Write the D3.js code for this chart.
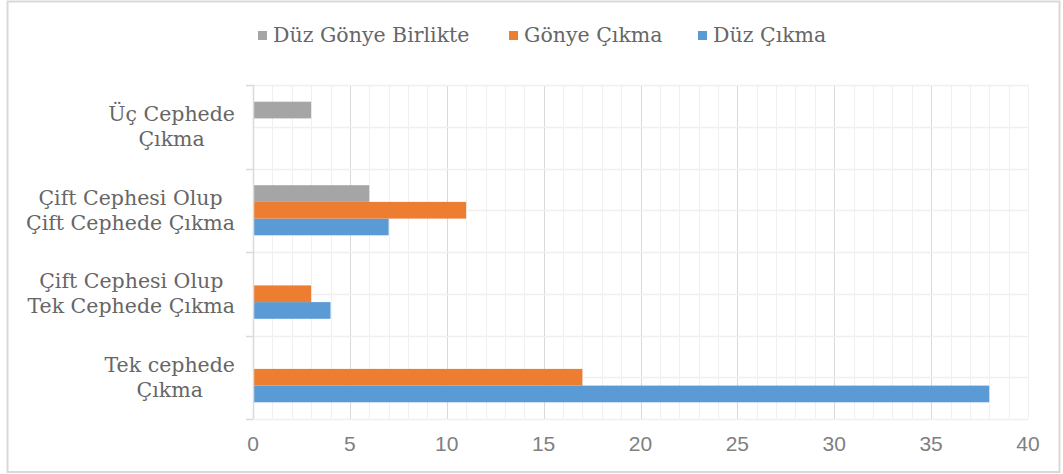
<!DOCTYPE html>
<html>
<head>
<meta charset="utf-8">
<script src="https://cdn.jsdelivr.net/npm/d3@7"></script>
<style>
	body { margin: 0; background: #fff; }
	svg { display: block; }
</style>
</head>
<body>
<script>
// categories, bottom to top as in the picture
var categories = ["Tek cephede\nÇıkma", "Çift Cephesi Olup\nTek Cephede Çıkma", "Çift Cephesi Olup\nÇift Cephede Çıkma", "Üç Cephede\nÇıkma"];
var seriesNames = ["Düz Çıkma", "Gönye Çıkma", "Düz Gönye Birlikte"];
var duzCikma = [38, 4, 7, 0];
var gonyeCikma = [17, 3, 11, 0];
var duzGonyeBirlikte = [0, 0, 6, 3];
var xTicks = [0, 5, 10, 15, 20, 25, 30, 35, 40];
var colors = ["#5b9bd5", "#ed7d31", "#a5a5a5"];

window.onload = function () {
	var width = 1063, height = 474;
	var mLeft = 253, mRight = 1028, mTop = 85, mBottom = 419;
	var serif = "'DejaVu Serif', serif", sans = "'Liberation Sans', Arial, sans-serif";
	var fs = 20.5;

	var svg = d3.select("body").append("svg").attr("width", width).attr("height", height);

	// outer frame
	svg.append("rect").attr("x", 7.5).attr("y", 1.5).attr("width", 1052).attr("height", 470.5)
		.attr("fill", "#fff").attr("stroke", "#d9d9d9").attr("stroke-width", 2);

	var x = d3.scaleLinear().domain([0, 40]).range([mLeft, mRight]);
	var y = d3.scaleBand().domain(categories.slice().reverse()).range([mTop, mBottom]);
	var bw = y.bandwidth();
	var inner = d3.scaleBand().domain(["Düz Gönye Birlikte", "Gönye Çıkma", "Düz Çıkma"])
		.range([bw * 0.2, bw * 0.8]);

	var values = { "Düz Çıkma": duzCikma, "Gönye Çıkma": gonyeCikma, "Düz Gönye Birlikte": duzGonyeBirlikte };

	// minor vertical grid every 1, major every 5
	svg.append("g").selectAll("line").data(d3.range(1, 41)).enter().append("line")
		.attr("x1", function(d){ return Math.round(x(d)) + 0.5; }).attr("x2", function(d){ return Math.round(x(d)) + 0.5; })
		.attr("y1", mTop).attr("y2", mBottom)
		.attr("stroke", function(d){ return (d % 5 == 0 && d != 40) ? "#d9d9d9" : "#f0f0f0"; })
		.attr("stroke-width", 1);

	// horizontal grid at band edges and band middles
	var hLines = [];
	categories.forEach(function(c){ hLines.push(y(c)); hLines.push(y(c) + bw / 2); });
	hLines.push(mBottom);
	svg.append("g").selectAll("line").data(hLines).enter().append("line")
		.attr("x1", mLeft).attr("x2", mRight)
		.attr("y1", function(d){ return Math.round(d) + 0.5; }).attr("y2", function(d){ return Math.round(d) + 0.5; })
		.attr("stroke", "#f0f0f0").attr("stroke-width", 1.5);

	// bars
	seriesNames.forEach(function(s, si){
		svg.append("g").selectAll("rect").data(categories).enter().append("rect")
			.attr("x", x(0))
			.attr("y", function(c){ return y(c) + inner(s); })
			.attr("width", function(c, i){ return x(values[s][i]) - x(0); })
			.attr("height", inner.bandwidth())
			.attr("fill", colors[si]);
	});

	// category axis
	svg.append("line").attr("x1", mLeft + 0.5).attr("x2", mLeft + 0.5).attr("y1", mTop).attr("y2", mBottom)
		.attr("stroke", "#d9d9d9").attr("stroke-width", 1.5);
	var edges = categories.map(function(c){ return y(c); }).concat([mBottom]);
	svg.append("g").selectAll("line").data(edges).enter().append("line")
		.attr("x1", mLeft - 7).attr("x2", mLeft)
		.attr("y1", function(d){ return Math.round(d) + 0.5; }).attr("y2", function(d){ return Math.round(d) + 0.5; })
		.attr("stroke", "#d9d9d9").attr("stroke-width", 1.5);

	// category labels: lines centred to each other, block right-aligned
	categories.forEach(function(c){
		var lines = c.split("\n");
		var g = svg.append("g");
		var texts = lines.map(function(l, li){
			return g.append("text").text(l)
				.attr("y", y(c) + bw / 2 + 7 + (li - (lines.length - 1) / 2) * 25)
				.attr("font-family", serif).attr("font-size", fs).attr("fill", "#666")
				.attr("text-anchor", "middle");
		});
		var maxW = d3.max(texts, function(t){ return t.node().getComputedTextLength(); });
		texts.forEach(function(t){ t.attr("x", 235 - maxW / 2); });
	});

	// value axis labels
	svg.append("g").selectAll("text").data(xTicks).enter().append("text")
		.attr("x", function(d){ return x(d); }).attr("y", 451)
		.attr("text-anchor", "middle").attr("font-family", sans).attr("font-size", 21)
		.attr("fill", "#808080").text(function(d){ return d; });

	// legend
	var legendOrder = ["Düz Gönye Birlikte", "Gönye Çıkma", "Düz Çıkma"];
	var legendX = [258, 509, 698];
	legendOrder.forEach(function(s, i){
		svg.append("rect").attr("x", legendX[i]).attr("y", 31).attr("width", 9).attr("height", 9)
			.attr("fill", colors[seriesNames.indexOf(s)]);
		svg.append("text").attr("x", legendX[i] + 15).attr("y", 42).text(s)
			.attr("font-family", serif).attr("font-size", fs).attr("fill", "#666");
	});
};
</script>
</body>
</html>
